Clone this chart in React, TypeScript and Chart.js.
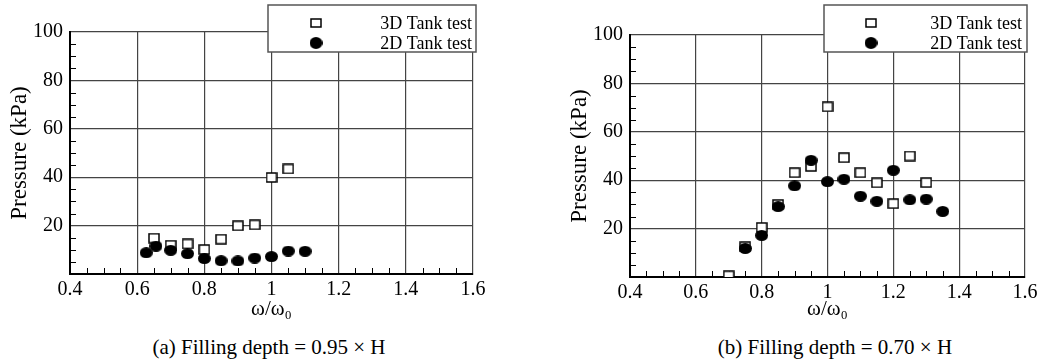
import React, { useEffect, useRef } from 'react';
import { Chart, registerables } from 'chart.js';

Chart.register(...registerables);

// ---------- data ----------
const xTickLabels = ['0.4', '0.6', '0.8', '1', '1.2', '1.4', '1.6'];
const yTickLabels = ['', '20', '40', '60', '80', '100'];
const seriesLabels = ['3D Tank test', '2D Tank test'];
const xTitle = 'ω/ω₀';
const yTitle = 'Pressure (kPa)';
const captionA = '(a) Filling depth = 0.95 × H';
const captionB = '(b) Filling depth = 0.70 × H';

// (a) filling depth 0.95 H
const aX3D = [0.65, 0.70, 0.75, 0.80, 0.85, 0.90, 0.95, 1.00, 1.05];
const aY3D = [14.8, 11.9, 12.4, 10.1, 14.4, 19.9, 20.3, 39.9, 43.4];
const aX2D = [0.627, 0.656, 0.70, 0.75, 0.80, 0.85, 0.90, 0.95, 1.00, 1.05, 1.10];
const aY2D = [8.8, 11.5, 9.8, 8.4, 6.4, 5.5, 5.4, 6.6, 7.2, 9.5, 9.4];

// (b) filling depth 0.70 H
const bX3D = [0.70, 0.75, 0.80, 0.85, 0.90, 0.95, 1.00, 1.05, 1.10, 1.15, 1.20, 1.25, 1.30];
const bY3D = [0.5, 12.5, 20.5, 30.0, 43.1, 45.7, 70.3, 49.3, 43.1, 38.9, 30.3, 50.0, 39.0];
const bX2D = [0.75, 0.80, 0.85, 0.90, 0.95, 1.00, 1.05, 1.10, 1.15, 1.20, 1.25, 1.30, 1.35];
const bY2D = [11.8, 17.2, 29.1, 37.7, 48.2, 39.4, 40.4, 33.4, 31.3, 44.1, 31.9, 32.2, 27.1];

// ---------- styling helpers ----------
const FAMILY = '"Liberation Serif", serif';
Chart.defaults.font.family = FAMILY;
Chart.defaults.color = '#000';

function makeSquare(w: number, h: number): HTMLCanvasElement {
  const c = document.createElement('canvas');
  c.width = w + 2;
  c.height = h + 2;
  const ctx = c.getContext('2d')!;
  ctx.fillStyle = '#fff';
  ctx.fillRect(1, 1, w, h);
  ctx.strokeStyle = '#000';
  ctx.lineWidth = 1.5;
  ctx.strokeRect(1, 1, w, h);
  return c;
}

function makeEllipse(w: number, h: number): HTMLCanvasElement {
  const c = document.createElement('canvas');
  c.width = w;
  c.height = h;
  const ctx = c.getContext('2d')!;
  ctx.fillStyle = '#000';
  ctx.beginPath();
  ctx.ellipse(w / 2, h / 2, w / 2, h / 2, 0, 0, Math.PI * 2);
  ctx.fill();
  return c;
}

const minorTicks = {
  id: 'minorTicks',
  beforeDatasetsDraw(chart: any) {
    const { ctx, chartArea: a, scales } = chart;
    const x = scales.x;
    const y = scales.y;
    ctx.save();
    ctx.strokeStyle = '#000';
    ctx.lineWidth = 1;
    ctx.beginPath();
    for (let i = 0; i <= 24; i++) {
      if (i % 4 === 0) continue;
      const px = Math.round(x.getPixelForValue(0.4 + i * 0.05)) + 0.5;
      ctx.moveTo(px, a.bottom);
      ctx.lineTo(px, a.bottom - 6);
    }
    for (let i = 0; i <= 20; i++) {
      if (i % 4 === 0) continue;
      const py = Math.round(y.getPixelForValue(i * 5)) + 0.5;
      ctx.moveTo(a.left, py);
      ctx.lineTo(a.left + 6, py);
    }
    ctx.stroke();
    ctx.restore();
  },
};

const boxLegend = {
  id: 'boxLegend',
  afterDraw(chart: any, _args: any, opts: any) {
    const { ctx } = chart;
    const [l, t, r, b] = opts.box;
    ctx.save();
    ctx.fillStyle = '#fff';
    ctx.fillRect(l, t, r - l, b - t);
    ctx.strokeStyle = '#555';
    ctx.lineWidth = 1.5;
    ctx.strokeRect(l, t, r - l, b - t);
    const marks = [opts.squareImg, opts.circleImg];
    ctx.font = `18px ${FAMILY}`;
    ctx.textAlign = 'right';
    ctx.textBaseline = 'middle';
    ctx.fillStyle = '#000';
    chart.data.datasets.forEach((ds: any, i: number) => {
      const cy = opts.rows[i];
      const img = marks[i];
      ctx.drawImage(img, opts.markX - img.width / 2, cy - img.height / 2);
      ctx.fillText(ds.label, opts.textRight, cy + 1);
    });
    ctx.restore();
  },
};

interface PanelProps {
  x3: number[];
  y3: number[];
  x2: number[];
  y2: number[];
  width: number;
  height: number;
  padLeft: number;
  padRight: number;
  padTop: number;
  xAxisH: number;
  legendBox: number[];
  markX: number;
  textRight: number;
}

function Panel(p: PanelProps) {
  const ref = useRef<HTMLCanvasElement | null>(null);
  useEffect(() => {
    const sq = makeSquare(10, 9);
    const el = makeEllipse(13, 11);
    const legSq = makeSquare(10, 8);
    const legEl = makeEllipse(13, 12);
    const tickFont = { family: FAMILY, size: 20 };
    const chart = new Chart(ref.current!, {
      type: 'scatter',
      data: {
        datasets: [
          {
            label: seriesLabels[0],
            data: p.x3.map((x, i) => ({ x, y: p.y3[i] })),
            pointStyle: sq as any,
            pointRadius: 6,
            order: 1,
          },
          {
            label: seriesLabels[1],
            data: p.x2.map((x, i) => ({ x, y: p.y2[i] })),
            pointStyle: el as any,
            pointRadius: 6,
            order: 0,
          },
        ],
      },
      options: {
        animation: false,
        responsive: false,
        events: [],
        font: { family: FAMILY },
        layout: { padding: { left: p.padLeft, right: p.padRight, top: p.padTop, bottom: 0 } },
        plugins: {
          legend: { display: false },
          tooltip: { enabled: false },
          boxLegend: {
            box: p.legendBox,
            rows: [23, 43],
            markX: p.markX,
            textRight: p.textRight,
            squareImg: legSq,
            circleImg: legEl,
          },
        } as any,
        scales: {
          x: {
            type: 'linear',
            min: 0.4,
            max: 1.6,
            ticks: {
              stepSize: 0.2,
              padding: 4,
              color: '#000',
              font: tickFont,
              maxRotation: 0,
              autoSkip: false,
              callback: (v: any) => xTickLabels[Math.round((Number(v) - 0.4) / 0.2)] ?? '',
            },
            grid: { color: '#444', lineWidth: 1.2, drawTicks: false },
            border: { color: '#000', width: 2 },
            title: {
              display: true,
              text: xTitle,
              color: '#000',
              font: { family: FAMILY, size: 21 },
              padding: { top: 0, bottom: 8 },
            },
            afterFit: (s: any) => {
              s.height = p.xAxisH;
            },
          },
          y: {
            type: 'linear',
            min: 0,
            max: 100,
            ticks: {
              stepSize: 20,
              padding: 7,
              color: '#000',
              font: tickFont,
              callback: (v: any) => yTickLabels[Math.round(Number(v) / 20)] ?? '',
            },
            grid: { color: '#444', lineWidth: 1.2, drawTicks: false },
            border: { color: '#000', width: 2 },
            title: {
              display: true,
              text: yTitle,
              color: '#000',
              font: { family: FAMILY, size: 23 },
              padding: { top: 6, bottom: 0 },
            },
            afterFit: (s: any) => {
              s.width = 70;
            },
          },
        },
      } as any,
      plugins: [minorTicks, boxLegend] as any,
    });
    return () => chart.destroy();
  }, []);
  return (
    <canvas
      ref={ref}
      width={p.width}
      height={p.height}
      style={{ width: p.width, height: p.height, display: 'block' }}
    />
  );
}

const captionStyle: React.CSSProperties = {
  position: 'absolute',
  top: 334,
  width: 300,
  textAlign: 'center',
  fontFamily: FAMILY,
  fontSize: 21,
  lineHeight: '26px',
  color: '#000',
  whiteSpace: 'nowrap',
};

export default function App() {
  return (
    <div
      style={{
        position: 'fixed',
        left: 0,
        top: 0,
        width: 1053,
        height: 360,
        background: '#fff',
        overflow: 'hidden',
      }}
    >
      <div style={{ position: 'absolute', left: 0, top: 0 }}>
        <Panel
          x3={aX3D}
          y3={aY3D}
          x2={aX2D}
          y2={aY2D}
          width={520}
          height={330}
          padLeft={0}
          padRight={47}
          padTop={32}
          xAxisH={56}
          legendBox={[268, 5, 476, 52]}
          markX={316}
          textRight={472}
        />
      </div>
      <div style={{ position: 'absolute', left: 520, top: 0 }}>
        <Panel
          x3={bX3D}
          y3={bY3D}
          x2={bX2D}
          y2={bY2D}
          width={533}
          height={330}
          padLeft={40}
          padRight={28}
          padTop={35}
          xAxisH={53}
          legendBox={[304, 5, 507, 52]}
          markX={351}
          textRight={502}
        />
      </div>
      <div style={{ ...captionStyle, left: 269 - 150 }}>{captionA}</div>
      <div style={{ ...captionStyle, left: 835 - 150 }}>{captionB}</div>
    </div>
  );
}
